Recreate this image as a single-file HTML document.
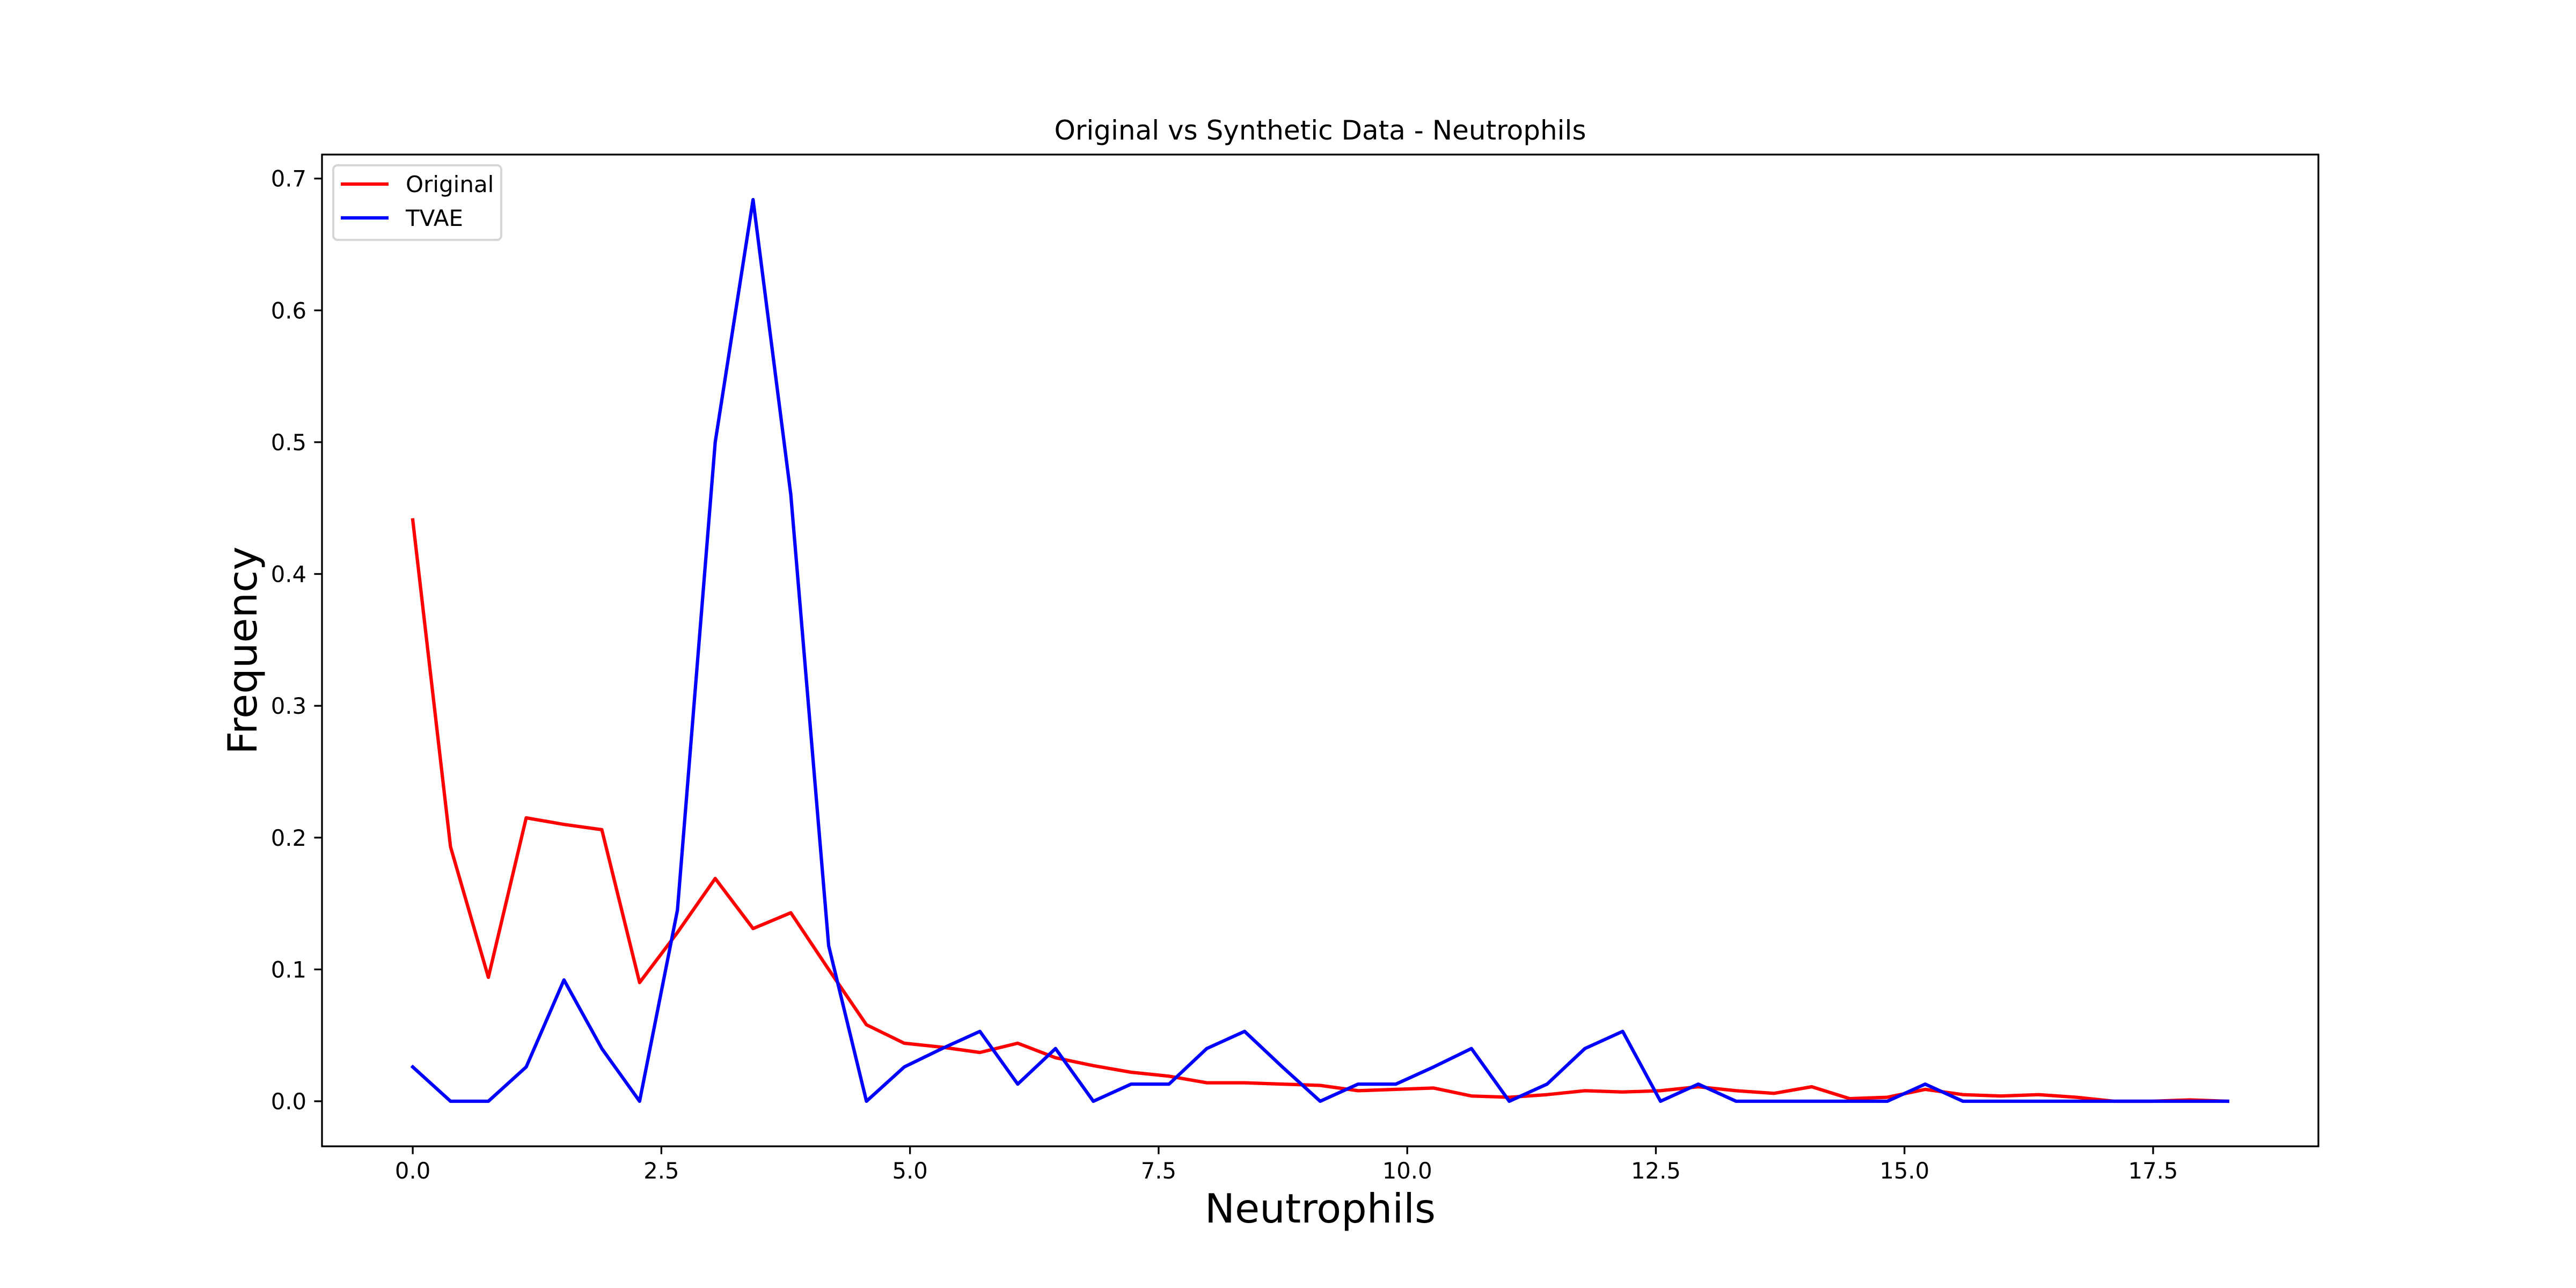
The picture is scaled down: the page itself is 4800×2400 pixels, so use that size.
<!DOCTYPE html>
<html><head><meta charset="utf-8"><style>
html,body{margin:0;padding:0;background:#fff}
svg{display:block;font-family:"DejaVu Sans","Liberation Sans",sans-serif}
</style></head><body>
<svg id="chart" width="4800" height="2400" viewBox="0 0 4800 2400" xmlns="http://www.w3.org/2000/svg">
<rect width="4800" height="2400" fill="#fff"/>
<g id="plot"></g>
<g id="axes"></g>
<text x="2460" y="260" font-size="50" text-anchor="middle">Original vs Synthetic Data - Neutrophils</text>
<text x="2460" y="2278" font-size="75" text-anchor="middle">Neutrophils</text>
<text x="0" y="0" font-size="75" text-anchor="middle" transform="translate(478,1212) rotate(-90)">Frequency</text>
<g>
<rect x="621" y="308" width="313" height="139" rx="8" fill="#fff" stroke="#d6d6d6" stroke-width="4"/>
<line x1="635" y1="343" x2="724" y2="343" stroke="#ff0000" stroke-width="6.25"/>
<text x="756" y="358" font-size="42">Original</text>
<line x1="635" y1="406" x2="724" y2="406" stroke="#0000ff" stroke-width="6.25"/>
<text x="756" y="421" font-size="42">TVAE</text>
</g>
</svg>
<script>
const xStep = 0.3802;
const originalValues = [0.441,0.193,0.094,0.215,0.210,0.206,0.090,0.128,0.169,0.131,0.143,0.100,0.058,0.044,0.041,0.037,0.044,0.033,0.027,0.022,0.019,0.014,0.014,0.013,0.012,0.008,0.009,0.010,0.004,0.003,0.005,0.008,0.007,0.008,0.011,0.008,0.006,0.011,0.002,0.003,0.009,0.005,0.004,0.005,0.003,0.000,0.000,0.001,0.000];
const tvaeValues = [0.026,0,0,0.026,0.092,0.040,0,0.145,0.500,0.684,0.460,0.118,0,0.026,0.040,0.053,0.013,0.040,0,0.013,0.013,0.040,0.053,0.026,0,0.013,0.013,0.026,0.040,0,0.013,0.040,0.053,0,0.013,0,0,0,0,0,0.013,0,0,0,0,0,0,0,0];
const xTicks = [0,2.5,5,7.5,10,12.5,15,17.5];
const xTickLabels = ["0.0","2.5","5.0","7.5","10.0","12.5","15.0","17.5"];
const yTicks = [0,0.1,0.2,0.3,0.4,0.5,0.6,0.7];
const yTickLabels = ["0.0","0.1","0.2","0.3","0.4","0.5","0.6","0.7"];

const L=600,R=4320,T=288,B=2136;
const n = originalValues.length;
const xMaxData = (n-1)*xStep;
const xPad = xMaxData*0.05;
const xmin=-xPad, xmax=xMaxData+xPad;
const yMaxData = Math.max(...originalValues,...tvaeValues);
const yPad = yMaxData*0.05;
const ymin=-yPad, ymax=yMaxData+yPad;
const sx=v=>L+(v-xmin)/(xmax-xmin)*(R-L);
const sy=v=>B-(v-ymin)/(ymax-ymin)*(B-T);
const NS="http://www.w3.org/2000/svg";
const plot=document.getElementById('plot');
const axes=document.getElementById('axes');
function mk(tag,attrs,parent){const e=document.createElementNS(NS,tag);for(const k in attrs)e.setAttribute(k,attrs[k]);parent.appendChild(e);return e;}

function series(vals,color,name){
  const pts=vals.map((v,i)=>sx(i*xStep).toFixed(1)+','+sy(v).toFixed(1)).join(' ');
  const p=mk('polyline',{points:pts,fill:'none',stroke:color,'stroke-width':6.25,'stroke-linejoin':'round','stroke-linecap':'square'},plot);
  
  
}
series(originalValues,'#ff0000','original-line');
series(tvaeValues,'#0000ff','tvae-line');

const frame=mk('rect',{x:L,y:T,width:R-L,height:B-T,fill:'none',stroke:'#000','stroke-width':3.3},axes);



xTicks.forEach((t,i)=>{
  const x=sx(t);
  const tk=mk('line',{x1:x,y1:B,x2:x,y2:B+14.6,stroke:'#000','stroke-width':3.3},axes);
  
  
  const tx=mk('text',{x:x,y:B+60,'font-size':41.7,'text-anchor':'middle'},axes);
  tx.textContent=xTickLabels[i];
  
  
});
yTicks.forEach((t,i)=>{
  const y=sy(t);
  const tk=mk('line',{x1:L-14.6,y1:y,x2:L,y2:y,stroke:'#000','stroke-width':3.3},axes);
  
  
  const tx=mk('text',{x:L-29,y:y+15,'font-size':41.7,'text-anchor':'end'},axes);
  tx.textContent=yTickLabels[i];
  
  
});
</script>
</body></html>
